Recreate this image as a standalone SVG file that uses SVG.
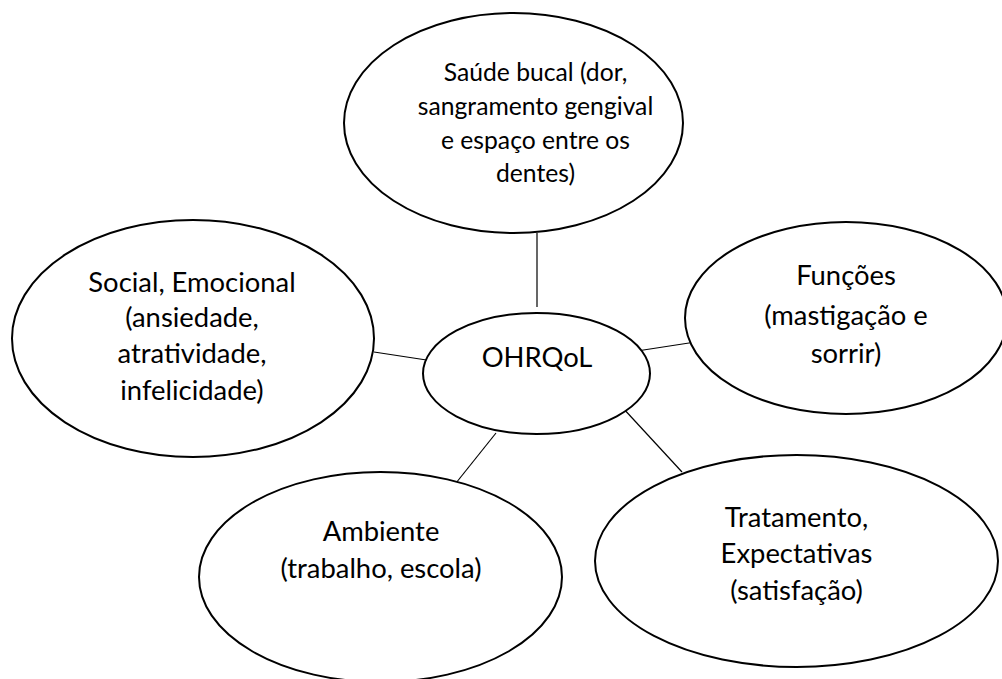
<svg xmlns="http://www.w3.org/2000/svg" width="1002" height="679" viewBox="0 0 1002 679">
<style>
.node ellipse{fill:#ffffff;stroke:#000000;stroke-width:2}
.conn line{stroke:#000000;stroke-width:1.2}
text{font-family:Lato,"Liberation Sans",sans-serif;fill:#000000;text-anchor:middle}
.t{font-size:27.4px}
.s{font-size:24.7px}
</style>
<rect x="0" y="0" width="1002" height="679" fill="#ffffff"/>
<g id="connectors" class="conn">
<line x1="537" y1="233" x2="537" y2="307"/>
<line x1="374" y1="352" x2="433" y2="361"/>
<line x1="637" y1="351" x2="702" y2="341"/>
<line x1="496" y1="433" x2="456" y2="483"/>
<line x1="622" y1="407" x2="682" y2="472"/>
</g>
<g id="saude" class="node">
<ellipse cx="513.5" cy="123" rx="169.5" ry="110"/>
<text class="s" x="535.5" y="81">Saúde bucal (dor,</text>
<text class="s" x="535.5" y="115">sangramento gengival</text>
<text class="s" x="535.5" y="148.5">e espaço entre os</text>
<text class="s" x="535.5" y="182">dentes)</text>
</g>
<g id="social" class="node">
<ellipse cx="193" cy="338.5" rx="181" ry="118.5"/>
<text class="t" x="192" y="292">Social, Emocional</text>
<text class="t" x="192" y="327">(ansiedade,</text>
<text class="t" x="192" y="363">atratividade,</text>
<text class="t" x="192" y="400">infelicidade)</text>
</g>
<g id="funcoes" class="node">
<ellipse cx="846" cy="318" rx="161" ry="96"/>
<text class="t" x="846" y="285">Funções</text>
<text class="t" x="846" y="325">(mastigação e</text>
<text class="t" x="846" y="363">sorrir)</text>
</g>
<g id="ohrqol" class="node">
<ellipse cx="536.5" cy="373.5" rx="113.5" ry="60.5"/>
<text class="t" x="537" y="367">OHRQoL</text>
</g>
<g id="ambiente" class="node">
<ellipse cx="380.5" cy="577" rx="181.5" ry="105"/>
<text class="t" x="381" y="541">Ambiente</text>
<text class="t" x="381" y="578">(trabalho, escola)</text>
</g>
<g id="tratamento" class="node">
<ellipse cx="796.5" cy="561" rx="201.5" ry="106"/>
<text class="t" x="796.5" y="527">Tratamento,</text>
<text class="t" x="796.5" y="563">Expectativas</text>
<text class="t" x="796.5" y="600">(satisfação)</text>
</g>
</svg>
